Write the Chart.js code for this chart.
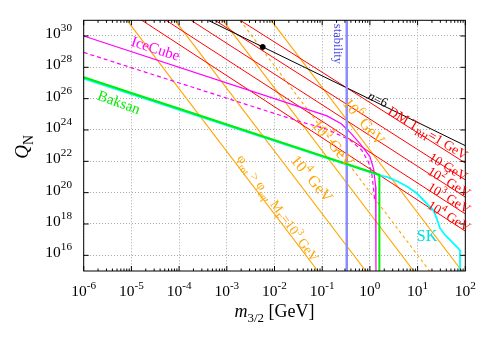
<!DOCTYPE html>
<html>
<head>
<meta charset="utf-8">
<script src="https://cdn.jsdelivr.net/npm/chart.js@4"></script>
<style>
  body { margin: 0; background: #fff; }
  #wrap { width: 491px; height: 343px; }
</style>
</head>
<body>
<div id="wrap"><canvas id="c" width="491" height="343"></canvas></div>
<script>
// ---- data: [m_3/2 (GeV), Q_N] ----
const xTicks = [1e-6, 1e-5, 1e-4, 1e-3, 1e-2, 1e-1, 1e0, 1e1, 1e2];
const yTicks = [1e16, 1e18, 1e20, 1e22, 1e24, 1e26, 1e28, 1e30];

const iceCube = [[1e-6, 1e30], [0.126, 7.9e24], [0.251, 2.5e24], [0.398, 6.3e23], [0.631, 1.26e23],
  [1.0, 2.0e22], [1.2, 3.2e21], [1.32, 2.5e20], [1.34, 1e19], [1.34, 1e15]];
const iceCubeDashed = [[1e-6, 8.9e28], [0.0292, 4e24], [0.124, 1.12e24], [0.383, 2.3e23], [0.673, 5.2e22],
  [0.925, 9.5e21], [1.09, 1.74e21], [1.18, 2.4e20], [1.26, 3.2e19]];
const baksan = [[1e-6, 2.3e27], [1.58, 1.4e21], [1.58, 1e15]];
const superK = [[1e-6, 1.9e27], [1.55, 1.3e21], [2.43, 9.5e20], [3.94, 5.0e20], [6.38, 2.2e20], [9.57, 9.1e19],
  [13.2, 3.4e19], [16.7, 1.62e19], [21.3, 7.8e18], [25.1, 2.3e18], [29.5, 5.4e17], [37.6, 2.0e17],
  [51.9, 7.4e16], [71.3, 2.8e16], [77.5, 2.0e16], [77.5, 1e15]];
const stability = [[0.327, 1e15], [0.327, 1e31]];
const nSix = [[4.07e-4, 1e31], [1e2, 1e23]];
const nSixPoint = [[5.66e-3, 2.0e29]];

const trhLabels = ['1 GeV', '10 GeV', '10^{2} GeV', '10^{3} GeV', '10^{4} GeV'];
const dmLines = [
  [[1.91e-3, 1e31], [1e2, 7.8e21]],
  [[5.66e-4, 1e31], [1e2, 6.5e20]],
  [[1.78e-4, 1e31], [1e2, 5.2e19]],
  [[5.31e-5, 1e31], [1e2, 4.4e18]],
  [[1.66e-5, 1e31], [1e2, 3.5e17]]
];
const mfLabels = ['10^{3} GeV', '10^{4} GeV', '10^{5} GeV', '10^{6} GeV'];
const rotLines = [
  [[8.1e-6, 1e31], [8.1e-2, 1e15]],
  [[8.2e-5, 1e31], [0.82, 1e15]],
  [[8.3e-4, 1e31], [8.3, 1e15]],
  [[8.5e-3, 1e31], [85, 1e15]]
];
const rotDashed = [[1.9e-3, 1e31], [17.8, 1e15]];

// ---- styling ----
const FONT = '"Liberation Serif", "DejaVu Serif", serif';
const RED = '#ff0000', ORANGE = '#ffa500', MAGENTA = '#ff00ff', GREEN = '#00ee00', CYAN = '#00ffff', BLUE = '#8c8cff';

const pts = arr => arr.map(p => ({ x: p[0], y: p[1] }));
const line = (data, color, width, dash) => ({
  data: pts(data), borderColor: color, backgroundColor: color, borderWidth: width,
  borderDash: dash || [], showLine: true, pointRadius: 0, tension: 0
});

// top-most first (Chart.js draws the first dataset last)
const datasets = [
  line(baksan, GREEN, 2),
  line(superK, CYAN, 1.8),
  line(stability, BLUE, 2.5),
  line(iceCube, MAGENTA, 1.2),
  line(iceCubeDashed, MAGENTA, 1.2, [4, 3]),
  line(nSix, '#000', 1),
  { data: pts(nSixPoint), showLine: false, pointRadius: 2.5, backgroundColor: '#000', borderColor: '#000' },
  ...dmLines.map(d => line(d, RED, 1)),
  ...rotLines.map(d => line(d, ORANGE, 1.1)),
  line(rotDashed, ORANGE, 1.1, [3, 3])
];

// text annotations, anchored in data coordinates
const labels = [
  { t: 'IceCube', x: 3.2e-5, y: 1.6e29, a: 18, s: 15, c: MAGENTA },
  { t: 'Baksan', x: 5.5e-6, y: 5.9e25, a: 20, s: 15, c: GREEN },
  { t: 'stability', x: 0.22, y: 3.1e29, a: 90, s: 12.5, c: '#4a4ae6' },
  { t: '%n%=6', x: 1.48, y: 9.3e25, a: 26, s: 13, c: '#000' },
  { t: 'DM T_{RH}=' + trhLabels[0], x: 16.5, y: 6.5e23, a: 31, s: 13.5, c: RED },
  { t: trhLabels[1], x: 43.7, y: 4.4e21, a: 31, s: 13.5, c: RED },
  { t: trhLabels[2], x: 45.7, y: 4.8e20, a: 31, s: 13.5, c: RED },
  { t: trhLabels[3], x: 45.7, y: 4.6e19, a: 31, s: 13.5, c: RED },
  { t: trhLabels[4], x: 45.7, y: 3.2e18, a: 31, s: 13.5, c: RED },
  { t: mfLabels[3], x: 0.75, y: 3.5e24, a: 50, s: 16, c: ORANGE },
  { t: mfLabels[2], x: 0.168, y: 1.4e23, a: 50, s: 16, c: ORANGE },
  { t: mfLabels[1], x: 0.061, y: 7.9e20, a: 50, s: 16, c: ORANGE },
  { t: 'φ_{rot} > φ_{eq}, M_{F}=' + mfLabels[0], x: 0.0118, y: 1.05e19, a: 54, s: 13.5, c: ORANGE },
  { t: 'SK', x: 15.8, y: 1.74e17, a: 0, s: 16, c: '#00e0e0' }
];

// tiny rich-text: ^{sup} _{sub} %italic%
function parseRich(s) {
  const segs = [];
  let buf = '', it = false, i = 0;
  const flush = () => { if (buf) segs.push({ t: buf, m: 0, it }); buf = ''; };
  while (i < s.length) {
    const ch = s[i];
    if ((ch === '^' || ch === '_') && s[i + 1] === '{') {
      flush();
      const j = s.indexOf('}', i);
      segs.push({ t: s.slice(i + 2, j), m: ch === '^' ? 1 : -1, it });
      i = j + 1;
    } else if (ch === '%') { flush(); it = !it; i++; }
    else { buf += ch; i++; }
  }
  flush();
  return segs;
}

function drawRich(ctx, s, x, y, o) {
  const size = o.size, segs = parseRich(s);
  const font = sg => `${sg.it ? 'italic ' : ''}${sg.m ? size * 0.72 : size}px ${FONT}`;
  let w = 0;
  segs.forEach(sg => { ctx.font = font(sg); sg.w = ctx.measureText(sg.t).width; w += sg.w; });
  ctx.save();
  ctx.translate(x, y);
  ctx.rotate((o.angle || 0) * Math.PI / 180);
  ctx.fillStyle = o.color;
  ctx.textBaseline = 'alphabetic';
  ctx.textAlign = 'left';
  let cx = o.align === 'right' ? -w : o.align === 'left' ? 0 : -w / 2;
  const base = o.middle ? size * 0.33 : 0;
  segs.forEach(sg => {
    ctx.font = font(sg);
    const dy = sg.m === 1 ? -size * 0.45 : sg.m === -1 ? size * 0.28 : 0;
    ctx.fillText(sg.t, cx, base + dy);
    cx += sg.w;
  });
  ctx.restore();
}

const decor = {
  id: 'decor',
  afterDatasetsDraw(chart) {
    const { ctx, chartArea: a, scales: { x, y } } = chart;
    ctx.save();
    // inward tick marks on all four sides
    ctx.strokeStyle = '#000';
    ctx.lineWidth = 1;
    ctx.beginPath();
    xTicks.forEach((v, i) => {
      const px = x.getPixelForValue(v);
      ctx.moveTo(px, a.bottom); ctx.lineTo(px, a.bottom - 5);
      ctx.moveTo(px, a.top); ctx.lineTo(px, a.top + 5);
      if (i < xTicks.length - 1) {
        for (let k = 2; k <= 9; k++) {
          const mx = x.getPixelForValue(v * k);
          ctx.moveTo(mx, a.bottom); ctx.lineTo(mx, a.bottom - 2.5);
          ctx.moveTo(mx, a.top); ctx.lineTo(mx, a.top + 2.5);
        }
      }
    });
    yTicks.forEach(v => {
      const py = y.getPixelForValue(v);
      ctx.moveTo(a.left, py); ctx.lineTo(a.left + 5, py);
      ctx.moveTo(a.right, py); ctx.lineTo(a.right - 5, py);
    });
    ctx.stroke();
    ctx.strokeRect(a.left, a.top, a.right - a.left, a.bottom - a.top);
    ctx.restore();

    // curve labels
    labels.forEach(l => drawRich(ctx, l.t, x.getPixelForValue(l.x), y.getPixelForValue(l.y),
      { size: l.s, color: l.c, angle: l.a, middle: true }));

    // tick labels
    xTicks.forEach(v => drawRich(ctx, '10^{' + Math.round(Math.log10(v)) + '}',
      x.getPixelForValue(v), a.bottom + 25, { size: 15.5, color: '#000' }));
    yTicks.forEach(v => drawRich(ctx, '10^{' + Math.round(Math.log10(v)) + '}',
      72, y.getPixelForValue(v) + 2, { size: 15.5, color: '#000', align: 'right' }));

    // axis titles
    drawRich(ctx, '%m%_{3/2} [GeV]', (a.left + a.right) / 2, 317, { size: 18, color: '#000' });
    drawRich(ctx, '%Q%_{N}', 28, 147, { size: 19, color: '#000', angle: -90 });
  }
};

new Chart(document.getElementById('c'), {
  type: 'scatter',
  data: { datasets },
  options: {
    responsive: false,
    animation: false,
    devicePixelRatio: 1,
    layout: { padding: { top: 20.3, right: 25.7, left: 0, bottom: 0 } },
    plugins: { legend: { display: false }, tooltip: { enabled: false } },
    scales: {
      x: {
        type: 'logarithmic', min: 1e-6, max: 1e2,
        afterBuildTicks: s => { s.ticks = xTicks.map(v => ({ value: v })); },
        afterFit: s => { s.height = 72; },
        ticks: { display: false },
        grid: { color: '#a8a8a8', lineWidth: 1, drawTicks: false },
        border: { display: false, dash: [1, 2] }
      },
      y: {
        type: 'logarithmic', min: 1e15, max: 1e31,
        afterBuildTicks: s => { s.ticks = yTicks.map(v => ({ value: v })); },
        afterFit: s => { s.width = 83.7; },
        ticks: { display: false },
        grid: { color: '#a8a8a8', lineWidth: 1, drawTicks: false },
        border: { display: false, dash: [1, 2] }
      }
    }
  },
  plugins: [decor]
});
</script>
</body>
</html>
